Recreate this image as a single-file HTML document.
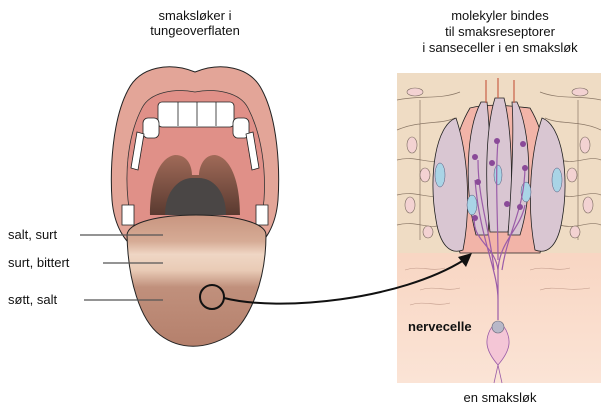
<!DOCTYPE html>
<html><head><style>
html,body{margin:0;padding:0;background:#fff;width:601px;height:409px;overflow:hidden}
text{font-family:"Liberation Sans",sans-serif;font-size:13px;fill:#111}
</style></head><body>
<svg width="601" height="409" viewBox="0 0 601 409" xmlns="http://www.w3.org/2000/svg">
<defs>
<linearGradient id="tg" x1="0" y1="0" x2="0" y2="1">
<stop offset="0" stop-color="#c89580"/><stop offset="0.2" stop-color="#d6ab95"/>
<stop offset="0.3" stop-color="#efd6c4"/><stop offset="0.42" stop-color="#e9cbb6"/>
<stop offset="0.55" stop-color="#c0907c"/><stop offset="1" stop-color="#b5806c"/>
</linearGradient>
<linearGradient id="dg" x1="0" y1="0" x2="0" y2="1">
<stop offset="0" stop-color="#f4c2a8"/><stop offset="1" stop-color="#fbe4d6"/>
</linearGradient>
<linearGradient id="th" x1="0" y1="0" x2="0" y2="1">
<stop offset="0" stop-color="#a06a58"/><stop offset="1" stop-color="#5a3a30"/>
</linearGradient>
</defs>
<text x="195" y="20" text-anchor="middle">smaksløker i</text>
<text x="195" y="35" text-anchor="middle">tungeoverflaten</text>
<text x="500" y="20" text-anchor="middle">molekyler bindes</text>
<text x="500" y="36" text-anchor="middle">til smaksreseptorer</text>
<text x="500" y="52" text-anchor="middle">i sanseceller i en smaksløk</text>
<text x="500" y="402" text-anchor="middle">en smaksløk</text>
<!-- mouth -->
<path d="M195 72 C170 62 140 66 128 90 C112 120 110 170 112 200 C114 225 125 245 140 250 L250 250 C265 245 276 225 278 200 C280 170 278 120 262 90 C250 66 220 62 195 72Z" fill="#e3a598" stroke="#222" stroke-width="1"/>
<path d="M195 92 C175 88 150 92 142 108 C128 135 125 170 128 200 C130 222 140 240 150 245 L240 245 C252 240 262 222 264 200 C266 170 262 135 248 108 C240 92 215 88 195 92Z" fill="#e09088" stroke="#333" stroke-width="0.8"/>
<rect x="158" y="102" width="76" height="25" rx="4" fill="#fff" stroke="#222" stroke-width="0.8"/>
<path d="M178 102V126M197 102V126M216 102V126" stroke="#222" stroke-width="0.8"/>
<rect x="143" y="118" width="16" height="20" rx="5" fill="#fff" stroke="#222" stroke-width="0.8"/>
<rect x="233" y="118" width="16" height="20" rx="5" fill="#fff" stroke="#222" stroke-width="0.8"/>
<path d="M137 132 L131 168 L138 170 L144 134Z" fill="#fff" stroke="#222" stroke-width="0.8"/>
<path d="M253 132 L259 168 L252 170 L246 134Z" fill="#fff" stroke="#222" stroke-width="0.8"/>
<path d="M122 205 h12 v20 h-12z M256 205 h12 v20 h-12z" fill="#fff" stroke="#222" stroke-width="0.8"/>
<path d="M150 215 C150 180 160 157 175 155 C190 155 192 170 192 175 L199 175 C199 170 202 155 215 155 C230 157 240 180 240 215Z" fill="url(#th)"/>
<path d="M165 215 C165 190 180 178 192 178 L199 178 C212 178 226 190 226 215Z" fill="#4a4645"/>
<!-- tongue -->
<path d="M127 235 C128 222 160 215 196 215 C232 215 266 222 266 235 C266 280 250 320 230 335 C205 350 180 350 160 335 C140 320 128 280 127 235Z" fill="url(#tg)" stroke="#222" stroke-width="1"/>
<circle cx="212" cy="297" r="12" fill="none" stroke="#111" stroke-width="2"/>
<g stroke="#555" stroke-width="1.2"><line x1="80" y1="235" x2="163" y2="235"/><line x1="103" y1="263" x2="163" y2="263"/><line x1="84" y1="300" x2="163" y2="300"/></g>
<text x="8" y="239">salt, surt</text>
<text x="8" y="267">surt, bittert</text>
<text x="8" y="304">søtt, salt</text>
<!-- taste bud panel -->
<rect x="397" y="73" width="204" height="310" fill="url(#dg)"/>
<rect x="397" y="73" width="204" height="180" fill="#efdcc4"/>
<g fill="none" stroke="#8a7766" stroke-width="0.7">
<path d="M397 100 C420 95 440 100 460 92 M397 130 C420 120 440 125 455 118 M397 160 C415 155 430 165 440 160 M397 195 C415 190 430 200 440 195 M397 225 C415 220 430 230 440 225 M540 92 C560 100 580 95 601 100 M545 118 C560 125 580 120 601 130 M560 160 C575 165 590 155 601 160 M560 195 C575 200 590 190 601 195 M560 225 C575 230 590 220 601 225 M420 100 V240 M578 100 V240"/>
</g>
<g fill="none" stroke="#c09a8a" stroke-width="0.6"><path d="M405 270 C420 265 430 272 445 268 M420 290 C435 285 445 292 460 288 M530 270 C545 265 555 272 570 268 M540 290 C555 285 565 292 590 288 M410 305 C425 300 435 307 450 303"/></g>
<g fill="#f3d2d2" stroke="#7a6a60" stroke-width="0.6">
<ellipse cx="415" cy="92" rx="8" ry="4"/><ellipse cx="412" cy="145" rx="5" ry="8"/><ellipse cx="410" cy="205" rx="5" ry="8"/><ellipse cx="425" cy="175" rx="5" ry="7"/><ellipse cx="428" cy="232" rx="5" ry="6"/>
<ellipse cx="580" cy="92" rx="8" ry="4"/><ellipse cx="585" cy="145" rx="5" ry="8"/><ellipse cx="588" cy="205" rx="5" ry="8"/><ellipse cx="572" cy="175" rx="5" ry="7"/><ellipse cx="575" cy="232" rx="5" ry="6"/>
</g>
<path d="M470 108 C490 103 510 106 530 108 C555 150 550 210 540 253 L460 253 C448 210 445 150 470 108Z" fill="#f2b4a8" stroke="#222" stroke-width="0.8"/>
<g fill="#d9c6d2" stroke="#222" stroke-width="0.8">
<path d="M456 118 C436 125 428 175 436 220 C440 245 450 255 463 250 C470 215 470 160 456 118Z"/>
<path d="M542 118 C562 125 570 175 562 220 C558 245 548 255 535 250 C528 215 528 160 542 118Z"/>
<path d="M481 102 C466 130 464 190 476 235 L488 235 C492 180 490 130 487 102Z"/>
<path d="M495 98 C485 130 485 190 490 232 L508 232 C514 190 512 130 504 98Z"/>
<path d="M517 102 C530 130 534 190 520 235 L508 235 C512 180 514 130 512 102Z"/>
</g>
<g fill="#a9d4e6" stroke="#557" stroke-width="0.5">
<ellipse cx="440" cy="175" rx="5" ry="12"/><ellipse cx="557" cy="180" rx="5" ry="12"/><ellipse cx="472" cy="205" rx="5" ry="10"/><ellipse cx="498" cy="175" rx="4" ry="10"/><ellipse cx="526" cy="192" rx="5" ry="10"/>
</g>
<path d="M486 103 V80 M498 98 V78 M514 103 V80" stroke="#c86048" stroke-width="1.2"/>
<g fill="none" stroke="#9a5ca8" stroke-width="1.2">
<path d="M498 320 V270 C495 245 470 240 475 215 M498 270 C500 240 520 230 525 205 M494 270 C490 230 478 200 478 160 M502 270 C508 230 525 210 525 165 M498 260 C498 220 495 180 498 140 M498 300 C498 270 480 240 475 180"/>
</g>
<g fill="#8a4a98"><circle cx="475" cy="157" r="3"/><circle cx="478" cy="182" r="3"/><circle cx="475" cy="218" r="3"/><circle cx="497" cy="141" r="3"/><circle cx="492" cy="163" r="3"/><circle cx="523" cy="144" r="3"/><circle cx="525" cy="168" r="3"/><circle cx="507" cy="204" r="3"/><circle cx="520" cy="207" r="3"/></g>
<path d="M490 330 C485 340 485 350 498 365 C511 350 511 340 506 330 C502 322 494 322 490 330Z" fill="#f4c6d6" stroke="#9a5ca8" stroke-width="0.8"/>
<circle cx="498" cy="327" r="6" fill="#b8b8c8" stroke="#667" stroke-width="0.6"/>
<path d="M498 365 L494 383 M498 365 L502 383" stroke="#9a5ca8" stroke-width="0.8"/>
<text x="408" y="331" font-weight="bold">nervecelle</text>
<!-- arrow on top -->
<path d="M224 298 C280 312 400 300 464 260" fill="none" stroke="#111" stroke-width="2"/>
<path d="M472 253 L458 257 L466 267Z" fill="#111"/>
</svg>
</body></html>
